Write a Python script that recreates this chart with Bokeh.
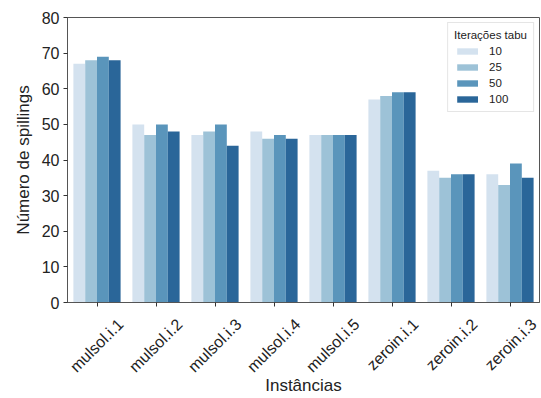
from math import pi
from bokeh.plotting import figure
from bokeh.models import (Range1d, ColumnDataSource, FixedTicker,
                          CustomJSTickFormatter)
from bokeh.embed import file_html
from bokeh.resources import INLINE

instancias = ["mulsol.i.1", "mulsol.i.2", "mulsol.i.3", "mulsol.i.4",
              "mulsol.i.5", "zeroin.i.1", "zeroin.i.2", "zeroin.i.3"]
it10 = [67, 50, 47, 48, 47, 57, 37, 36]
it25 = [68, 47, 48, 46, 47, 58, 35, 33]
it50 = [69, 50, 50, 47, 47, 59, 36, 39]
it100 = [68, 48, 44, 46, 47, 59, 36, 35]
series_names = ["10", "25", "50", "100"]
series_vals = [it10, it25, it50, it100]
colors = ["#d4e2ef", "#9dc2d7", "#5a95bb", "#2a6699"]
y_ticks = [0, 10, 20, 30, 40, 50, 60, 70, 80]

FONT = "Liberation Sans"
TXT = "#222222"

n = len(instancias)
centers = [i + 0.5 for i in range(n)]          # category centres on a numeric axis

p = figure(width=541, height=398,
           x_range=Range1d(0, n),
           y_range=Range1d(0, 80),
           output_backend="svg", toolbar_location=None,
           min_border_left=67, min_border_right=2,
           min_border_top=17, min_border_bottom=95)

offsets = [-0.3, -0.1, 0.1, 0.3]
for off, vals, name, c in zip(offsets, series_vals, series_names, colors):
    src = ColumnDataSource(data=dict(x=[cx + off for cx in centers], top=vals))
    p.vbar(x="x", top="top", width=0.2, source=src,
           fill_color=c, line_color=None, legend_label=name)

p.outline_line_color = "#555555"
p.outline_line_width = 1
p.xgrid.grid_line_color = None
p.ygrid.grid_line_color = None

# y axis
p.yaxis.ticker = y_ticks
p.yaxis.axis_label = "Número de spillings"
p.yaxis.axis_label_text_font = FONT
p.yaxis.axis_label_text_font_size = "17px"
p.yaxis.axis_label_text_font_style = "normal"
p.yaxis.axis_label_text_color = TXT
p.yaxis.axis_label_standoff = 6
p.yaxis.major_label_text_font = FONT
p.yaxis.major_label_text_font_size = "16px"
p.yaxis.major_label_text_color = TXT
p.yaxis.major_label_standoff = 4
p.yaxis.minor_tick_line_color = None
p.yaxis.major_tick_in = 0
p.yaxis.major_tick_out = 4
p.yaxis.axis_line_color = "#555555"
p.yaxis.major_tick_line_color = "#333333"

# x axis: visible ticks at category centres (minor ticks); rotated labels
# anchored so that each label is centred under its tick
label_pos = [c + 0.4 for c in centers]
xa = p.xaxis[0]
xa.ticker = FixedTicker(ticks=label_pos, minor_ticks=centers)
xa.formatter = CustomJSTickFormatter(args=dict(names=instancias),
                                     code="return names[Math.floor(tick)];")
xa.major_label_orientation = pi / 4
xa.major_label_text_font = FONT
xa.major_label_text_font_size = "16px"
xa.major_label_text_color = TXT
xa.major_label_standoff = 15
xa.major_tick_line_color = None
xa.major_tick_in = 0
xa.major_tick_out = 0
xa.minor_tick_line_color = "#333333"
xa.minor_tick_in = 0
xa.minor_tick_out = 4
xa.axis_line_color = "#555555"
xa.axis_label = "Instâncias"
xa.axis_label_text_font = FONT
xa.axis_label_text_font_size = "17px"
xa.axis_label_text_font_style = "normal"
xa.axis_label_text_color = TXT
xa.axis_label_standoff = -8

# legend
lg = p.legend[0]
lg.title = "Iterações tabu"
lg.title_text_font = FONT
lg.title_text_font_size = "11.5px"
lg.title_text_font_style = "normal"
lg.title_text_color = TXT
lg.title_standoff = 4
lg.label_text_font = FONT
lg.label_text_font_size = "11.5px"
lg.label_text_color = TXT
lg.location = "top_right"
lg.margin = 5
lg.padding = 6
lg.spacing = 4
lg.glyph_width = 26
lg.glyph_height = 8
lg.label_height = 12
lg.label_standoff = 9
lg.border_line_color = "#cccccc"
lg.border_line_width = 1
lg.background_fill_alpha = 0.8

open("out.html", "w").write(file_html(p, INLINE))
